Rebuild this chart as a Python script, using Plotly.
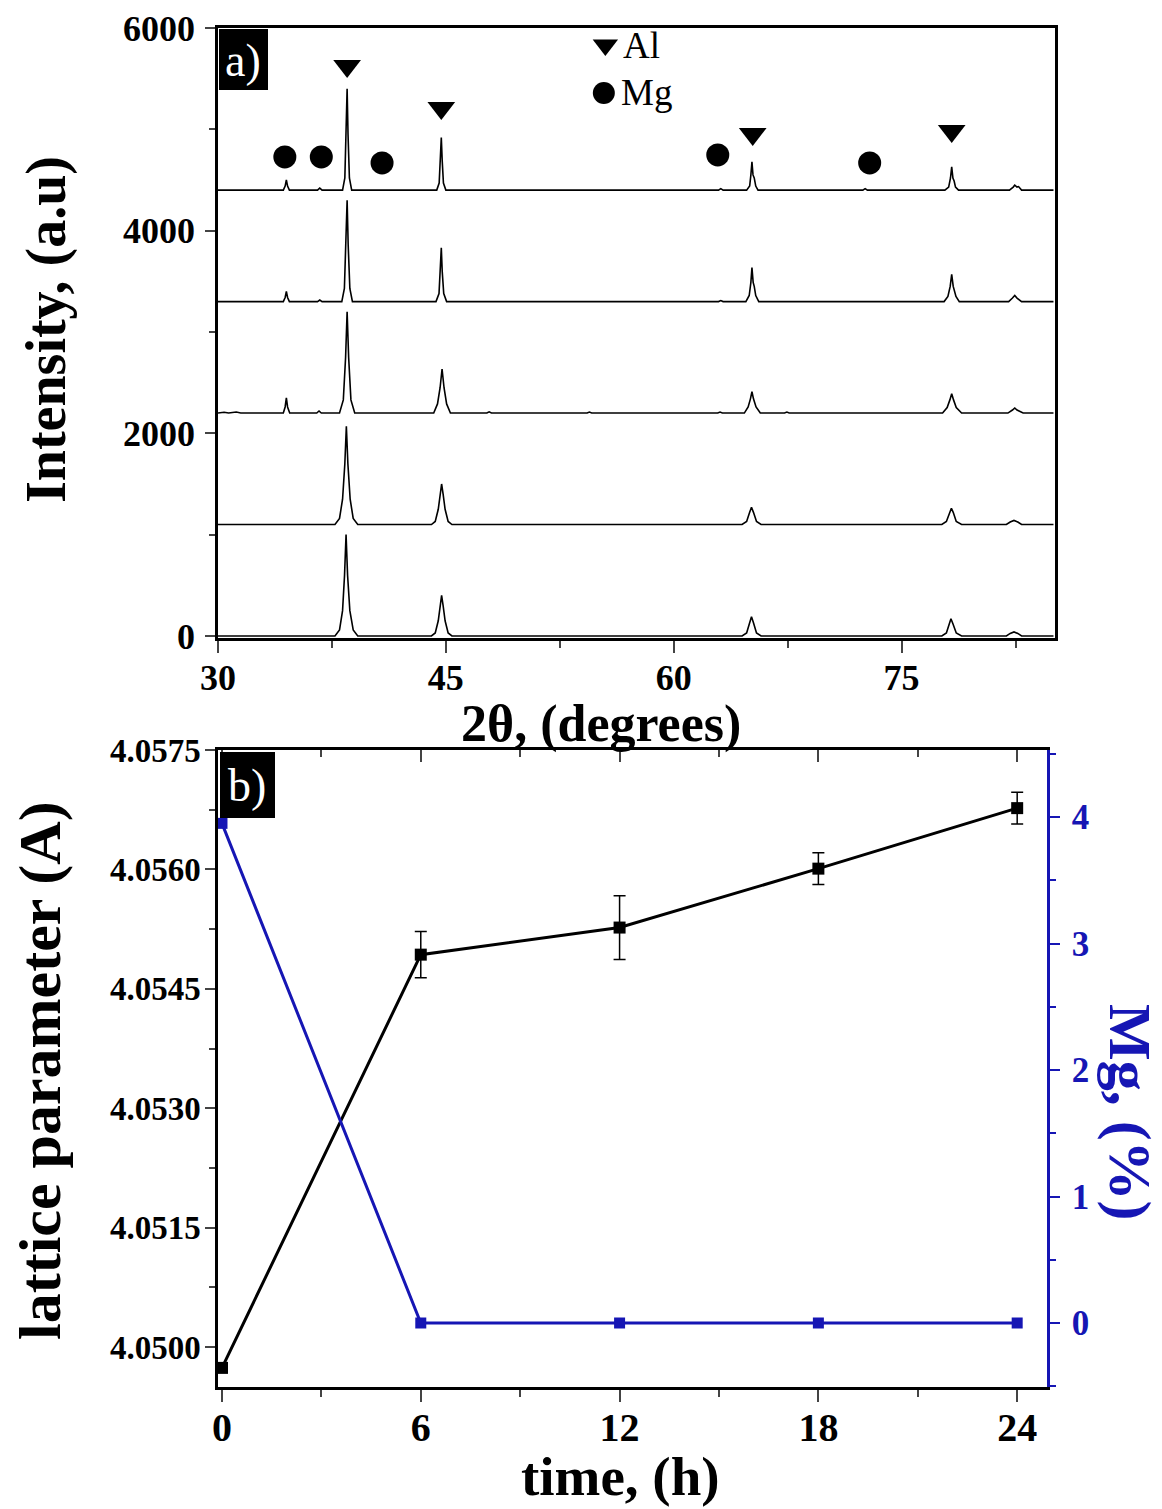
import plotly.graph_objects as go

# page body has an 8px default margin, so figure is sized to fit the window
PAGE_W, PAGE_H = 1162, 1509
OFF = 8
W, H = PAGE_W - OFF, PAGE_H - OFF
SERIF = "Liberation Serif"
BLUE = "rgb(22,22,180)"

# ---------------- Panel a) XRD data (digitized, relative intensity above each offset) ----------------
stack_offsets = [4400, 3300, 2200, 1100, 0]

xrd_a = [(30,0),(34.3,0),(34.42,40),(34.5,100),(34.58,40),(34.7,0),(36.55,0),(36.7,20),(36.85,0),
         (38.2,0),(38.35,120),(38.44,550),(38.5,1000),(38.56,550),(38.65,120),(38.8,0),
         (44.4,0),(44.56,70),(44.64,290),(44.7,520),(44.76,290),(44.84,70),(45.0,0),
         (62.95,0),(63.1,15),(63.25,0),(64.8,0),(65.0,40),(65.08,150),(65.15,280),(65.22,150),(65.3,120),(65.4,40),(65.55,0),
         (72.45,0),(72.6,15),(72.75,0),(77.85,0),(78.1,30),(78.22,120),(78.3,230),(78.38,120),(78.46,90),(78.55,30),(78.75,0),
         (82.1,0),(82.35,30),(82.45,50),(82.6,30),(82.7,35),(82.9,0),(85,0)]

xrd_b = [(30,0),(34.3,0),(34.42,40),(34.5,100),(34.58,40),(34.7,0),(36.55,0),(36.7,15),(36.85,0),
         (38.15,0),(38.32,130),(38.43,560),(38.5,1000),(38.57,560),(38.68,130),(38.85,0),
         (44.35,0),(44.55,80),(44.64,300),(44.7,530),(44.76,300),(44.86,80),(45.05,0),
         (62.95,0),(63.1,10),(63.25,0),(64.75,0),(64.97,60),(65.08,190),(65.15,335),(65.23,190),(65.3,150),(65.4,60),(65.6,0),
         (77.8,0),(78.05,50),(78.2,150),(78.3,270),(78.4,150),(78.48,110),(78.58,50),(78.8,0),
         (82.05,0),(82.3,35),(82.45,60),(82.6,35),(82.9,0),(85,0)]

xrd_c = [(30,0),(30.4,8),(30.7,0),(31.2,10),(31.5,0),(34.3,0),(34.42,60),(34.5,150),(34.58,60),(34.72,0),
         (36.5,0),(36.65,20),(36.8,0),(38.0,0),(38.25,130),(38.4,550),(38.5,1000),(38.6,550),(38.75,130),(39.0,0),
         (44.2,0),(44.45,90),(44.62,250),(44.75,435),(44.88,250),(45.05,90),(45.3,0),
         (47.7,0),(47.85,12),(48.0,0),(54.3,0),(54.45,10),(54.6,0),
         (62.9,0),(63.05,10),(63.2,0),(64.65,0),(64.9,60),(65.05,140),(65.15,210),(65.25,140),(65.42,60),(65.7,0),
         (67.3,0),(67.45,10),(67.6,0),(77.7,0),(78.0,55),(78.18,130),(78.3,190),(78.42,130),(78.6,55),(78.95,0),
         (82.0,0),(82.3,30),(82.45,50),(82.6,30),(83.0,0),(85,0)]

xrd_d = [(30,0),(37.7,0),(38.0,60),(38.2,250),(38.35,600),(38.45,970),(38.55,600),(38.7,250),(38.9,60),(39.2,0),
         (44.05,0),(44.3,30),(44.5,150),(44.62,300),(44.72,400),(44.82,300),(44.95,150),(45.15,30),(45.4,0),
         (64.5,0),(64.8,30),(65.0,120),(65.12,170),(65.25,120),(65.45,30),(65.75,0),
         (77.65,0),(77.95,30),(78.15,120),(78.28,160),(78.4,120),(78.6,30),(78.95,0),
         (81.9,0),(82.15,25),(82.4,40),(82.65,25),(82.9,0),(85,0)]

xrd_e = [(30,0),(37.7,0),(38.0,60),(38.2,250),(38.33,600),(38.43,1000),(38.53,600),(38.68,250),(38.9,60),(39.2,0),
         (44.05,0),(44.3,30),(44.5,150),(44.62,300),(44.72,400),(44.82,300),(44.95,150),(45.15,30),(45.4,0),
         (64.5,0),(64.8,30),(65.0,130),(65.12,190),(65.25,130),(65.45,30),(65.75,0),
         (77.65,0),(77.95,30),(78.12,120),(78.25,170),(78.38,120),(78.6,30),(78.95,0),
         (81.9,0),(82.15,25),(82.4,40),(82.65,25),(82.9,0),(85,0)]

xrd_curves = [xrd_a, xrd_b, xrd_c, xrd_d, xrd_e]

# phase markers (2theta, intensity)
al_marks_x = [38.5, 44.7, 65.2, 78.3]
al_marks_y = [5625, 5211, 4954, 4984]
mg_marks_x = [34.4, 36.8, 40.8, 62.9, 72.9]
mg_marks_y = [4727, 4727, 4668, 4747, 4668]
legend_x = [55.5, 55.4]
legend_y = [5832, 5359]
legend_symbols = ["triangle-down", "circle"]
legend_labels = ["Al", "Mg"]

# ---------------- Panel b) lattice parameter & Mg ----------------
time_h = [0, 6, 12, 18, 24]
lattice = [4.04974, 4.05493, 4.05527, 4.05601, 4.05677]
lattice_err = [0.0, 0.00029, 0.0004, 0.0002, 0.0002]
mg_pct = [3.95, 0, 0, 0, 0]

x_ticks_a = [30, 45, 60, 75]
y_ticks_a = [0, 2000, 4000, 6000]
x_ticks_b = [0, 6, 12, 18, 24]
y_ticks_b = [4.0500, 4.0515, 4.0530, 4.0545, 4.0560, 4.0575]
y_ticklabels_b = ["4.0500", "4.0515", "4.0530", "4.0545", "4.0560", "4.0575"]
y2_ticks_b = [0, 1, 2, 3, 4]


def px(x):
    return (x - OFF) / W


def py(y):
    return 1 - (y - OFF) / H


fig = go.Figure()

for curve, off in zip(xrd_curves, stack_offsets):
    fig.add_trace(go.Scatter(
        x=[p[0] for p in curve], y=[p[1] + off for p in curve],
        mode="lines", line=dict(color="black", width=1.6),
        xaxis="x", yaxis="y", showlegend=False, hoverinfo="skip"))

fig.add_trace(go.Scatter(x=al_marks_x, y=al_marks_y, mode="markers",
                         marker=dict(symbol="triangle-down", size=24, color="black", line=dict(width=0)),
                         xaxis="x", yaxis="y", showlegend=False))
fig.add_trace(go.Scatter(x=mg_marks_x, y=mg_marks_y, mode="markers",
                         marker=dict(symbol="circle", size=23, color="black", line=dict(width=0)),
                         xaxis="x", yaxis="y", showlegend=False))
fig.add_trace(go.Scatter(x=legend_x, y=legend_y, mode="markers",
                         marker=dict(symbol=legend_symbols, size=22, color="black", line=dict(width=0)),
                         xaxis="x", yaxis="y", showlegend=False))
for lx, ly, lab in zip(legend_x, legend_y, legend_labels):
    fig.add_annotation(x=lx + 1.0, y=ly, xref="x", yref="y", text=lab, showarrow=False,
                       xanchor="left", yanchor="middle",
                       font=dict(family=SERIF, size=37, color="black"))

# lattice parameter
fig.add_trace(go.Scatter(x=time_h, y=lattice, mode="lines+markers",
                         line=dict(color="black", width=3),
                         marker=dict(symbol="square", size=12, color="black"),
                         error_y=dict(type="data", array=lattice_err, visible=True,
                                      color="black", thickness=1.5, width=6),
                         xaxis="x2", yaxis="y2", showlegend=False))
# Mg %
fig.add_trace(go.Scatter(x=time_h, y=mg_pct, mode="lines+markers",
                         line=dict(color=BLUE, width=3),
                         marker=dict(symbol="square", size=11, color=BLUE),
                         xaxis="x2", yaxis="y3", showlegend=False))
# invisible trace for top tick axis
fig.add_trace(go.Scatter(x=[12], y=[4.053], mode="markers", marker=dict(opacity=0),
                         xaxis="x3", yaxis="y2", showlegend=False, hoverinfo="skip"))

tickfont_a = dict(family=SERIF, size=36, color="black")
tickfont_by = dict(family=SERIF, size=33, color="black")
tickfont_bx = dict(family=SERIF, size=40, color="black")


def bold(vals):
    return [f"<b>{v}</b>" for v in vals]


fig.update_layout(
    width=W, height=H, margin=dict(l=0, r=0, t=0, b=0, autoexpand=False),
    paper_bgcolor="white", plot_bgcolor="white",
    font=dict(family=SERIF),
    xaxis=dict(domain=[px(218), px(1055)], range=[30, 85.1], anchor="y", automargin=False,
               tickvals=x_ticks_a, ticktext=bold(x_ticks_a), ticks="outside", ticklen=12, tickwidth=2,
               minor=dict(dtick=7.5, tick0=30, ticks="outside", ticklen=7, tickwidth=2),
               showline=True, linewidth=3, linecolor="black", mirror=True, ticklabeloverflow="allow",
               showgrid=False, zeroline=False, tickfont=tickfont_a, ticklabelstandoff=-6),
    yaxis=dict(domain=[py(638), py(28)], range=[-20, 6000], anchor="x", automargin=False,
               tickvals=y_ticks_a, ticktext=bold(y_ticks_a), ticks="outside", ticklen=10, tickwidth=2,
               minor=dict(dtick=1000, tick0=0, ticks="outside", ticklen=6, tickwidth=2),
               showline=True, linewidth=2.5, linecolor="black", mirror=True, ticklabeloverflow="allow",
               showgrid=False, zeroline=False, tickfont=tickfont_a, ticklabelstandoff=3),
    xaxis2=dict(domain=[px(218), px(1047)], range=[-0.12, 24.9], anchor="y2", automargin=False,
                tickvals=x_ticks_b, ticktext=bold(x_ticks_b), ticks="outside", ticklen=12, tickwidth=2,
                minor=dict(dtick=3, tick0=0, ticks="outside", ticklen=7, tickwidth=2),
                showline=True, linewidth=3, linecolor="black", mirror=True, ticklabeloverflow="allow",
                showgrid=False, zeroline=False, tickfont=tickfont_bx, ticklabelstandoff=-9),
    xaxis3=dict(overlaying="x2", anchor="y2", side="top", range=[-0.12, 24.9], automargin=False,
                tickvals=x_ticks_b, ticks="inside", ticklen=12, tickwidth=2,
                minor=dict(dtick=3, tick0=0, ticks="inside", ticklen=7, tickwidth=2),
                showticklabels=False, showline=False, showgrid=False, zeroline=False),
    yaxis2=dict(domain=[py(1387), py(750)], range=[4.0495, 4.0575], anchor="x2", automargin=False,
                tickvals=y_ticks_b, ticktext=bold(y_ticklabels_b), ticks="outside", ticklen=10, tickwidth=2,
                minor=dict(dtick=0.00075, tick0=4.0500, ticks="outside", ticklen=6, tickwidth=2),
                showline=True, linewidth=2.5, linecolor="black", mirror=False, ticklabeloverflow="allow",
                showgrid=False, zeroline=False, tickfont=tickfont_by, ticklabelstandoff=-2),
    yaxis3=dict(overlaying="y2", anchor="x2", side="right", range=[-0.506, 4.53], automargin=False,
                tickvals=y2_ticks_b, ticktext=bold(y2_ticks_b), ticks="outside", ticklen=10, tickwidth=2,
                tickcolor=BLUE, ticklabeloverflow="allow",
                minor=dict(dtick=0.5, tick0=0, ticks="outside", ticklen=6, tickwidth=2, tickcolor=BLUE),
                showline=True, linewidth=2.5, linecolor=BLUE,
                showgrid=False, zeroline=False,
                tickfont=dict(family=SERIF, size=35, color=BLUE), ticklabelstandoff=5),
)

# panel labels (black boxes with white text)
fig.add_shape(type="rect", xref="paper", yref="paper",
              x0=px(219), x1=px(268), y0=py(90), y1=py(29),
              fillcolor="black", line=dict(width=0), layer="above")
fig.add_annotation(text="a)", xref="paper", yref="paper", x=px(243), y=py(60),
                   xanchor="center", yanchor="middle",
                   showarrow=False, font=dict(family=SERIF, size=46, color="white"))
fig.add_shape(type="rect", xref="paper", yref="paper",
              x0=px(220), x1=px(275), y0=py(818), y1=py(752),
              fillcolor="black", line=dict(width=0), layer="above")
fig.add_annotation(text="b)", xref="paper", yref="paper", x=px(247), y=py(785),
                   xanchor="center", yanchor="middle",
                   showarrow=False, font=dict(family=SERIF, size=46, color="white"))

# axis titles
fig.add_annotation(text="<b>Intensity, (a.u)</b>", xref="paper", yref="paper",
                   x=px(46), y=py(330), textangle=-90, showarrow=False,
                   xanchor="center", yanchor="middle",
                   font=dict(family=SERIF, size=56, color="black"))
fig.add_annotation(text="<b>2θ, (degrees)</b>", xref="paper", yref="paper",
                   x=px(601), y=py(724), showarrow=False,
                   xanchor="center", yanchor="middle",
                   font=dict(family=SERIF, size=52, color="black"))
fig.add_annotation(text="<b>lattice parameter (A)</b>", xref="paper", yref="paper",
                   x=px(40), y=py(1071), textangle=-90, showarrow=False,
                   xanchor="center", yanchor="middle",
                   font=dict(family=SERIF, size=60, color="black"))
fig.add_annotation(text="<b>time, (h)</b>", xref="paper", yref="paper",
                   x=px(620), y=py(1476), showarrow=False,
                   xanchor="center", yanchor="middle",
                   font=dict(family=SERIF, size=55, color="black"))
fig.add_annotation(text="<b>Mg, (%)</b>", xref="paper", yref="paper",
                   x=px(1130), y=py(1112), textangle=90, showarrow=False,
                   xanchor="center", yanchor="middle",
                   font=dict(family=SERIF, size=60, color=BLUE))

fig.write_html("out.html")
